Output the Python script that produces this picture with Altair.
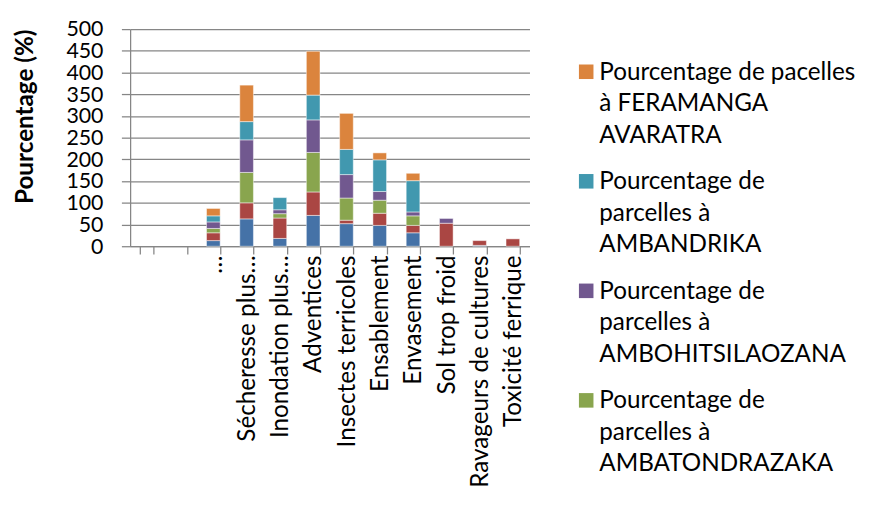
import altair as alt
import pandas as pd

categories = ["", " ", "…", "Sécheresse plus…", "Inondation plus…", "Adventices",
              "Insectes terricoles", "Ensablement", "Envasement", "Sol trop froid",
              "Ravageurs de cultures", "Toxicité ferrique"]

series = [
    "Pourcentage de parcelles à AMPARAFARAVOLA",
    "Pourcentage de parcelles à ANDILAMENA",
    "Pourcentage de parcelles à AMBATONDRAZAKA",
    "Pourcentage de parcelles à AMBOHITSILAOZANA",
    "Pourcentage de parcelles à AMBANDRIKA",
    "Pourcentage de pacelles à FERAMANGA AVARATRA",
]
colors = ["#4572A7", "#AA4643", "#89A54E", "#71588F", "#4198AF", "#DB843D"]

# values per series, one per category
blue   = [0, 0, 13, 63, 18, 71, 52, 48, 31, 0, 2, 0]
red    = [0, 0, 18, 37, 47, 54, 8, 28, 17, 53, 11, 17]
green  = [0, 0, 10, 70, 10, 91, 51, 30, 22, 0, 0, 0]
purple = [0, 0, 15, 75, 9, 75, 54, 20, 9, 11, 0, 0]
teal   = [0, 0, 14, 42, 28, 57, 58, 73, 72, 0, 0, 0]
orange = [0, 0, 17, 84, 0, 101, 83, 16, 17, 0, 0, 0]
all_values = [blue, red, green, purple, teal, orange]

y_ticks = list(range(0, 501, 50))

legend_series = [series[5], series[4], series[3], series[2]]
legend_labels = [
    "Pourcentage de pacelles\nà FERAMANGA\nAVARATRA",
    "Pourcentage de\nparcelles à\nAMBANDRIKA",
    "Pourcentage de\nparcelles à\nAMBOHITSILAOZANA",
    "Pourcentage de\nparcelles à\nAMBATONDRAZAKA",
]

rows = []
for si, (name, vals) in enumerate(zip(series, all_values)):
    for cat, v in zip(categories, vals):
        if v > 0:
            rows.append({"cat": cat, "series": name, "idx": si, "value": v})
df = pd.DataFrame(rows)

FONT = "Lato"
GRAY = "#868686"
color_scale = alt.Scale(domain=series, range=colors)

main = alt.Chart(df).mark_bar(stroke="white", strokeWidth=0.8, strokeOpacity=0.6).encode(
    x=alt.X("cat:N", sort=categories,
            scale=alt.Scale(domain=categories, paddingInner=0.59, paddingOuter=0.295),
            axis=alt.Axis(title=None, labelAngle=270, labelFontSize=25, labelFont=FONT,
                          labelColor="black", labelPadding=1, labelLimit=0,
                          tickBand="extent", tickSize=8, tickColor=GRAY,
                          tickWidth=1.3, domainColor=GRAY, domainWidth=1.3)),
    y=alt.Y("value:Q", stack="zero",
            scale=alt.Scale(domain=[0, 500], nice=False),
            axis=alt.Axis(title="Pourcentage (%)", values=y_ticks, labelFontSize=22,
                          labelFont=FONT, labelColor="black", labelPadding=19,
                          tickSize=9, tickColor=GRAY, tickWidth=1.3,
                          domainColor=GRAY, domainWidth=1.3,
                          gridColor=GRAY, gridWidth=1.3,
                          titleFont=FONT, titleFontSize=25, titleFontWeight="bold",
                          titleColor="black", titlePadding=29, titleAnchor="end")),
    color=alt.Color("series:N", scale=color_scale, legend=None),
    order=alt.Order("idx:Q", sort="ascending"),
).properties(width=412, height=224)

leg_df = pd.DataFrame({"label": legend_labels, "series": legend_series,
                       "pos": list(range(len(legend_labels)))})
base = alt.Chart(leg_df).encode(
    y=alt.Y("pos:O", scale=alt.Scale(type="point", range=[44, 383], padding=0), axis=None)
)
sq = base.mark_square(size=225, opacity=1).encode(
    x=alt.value(38.5),
    color=alt.Color("series:N", scale=color_scale, legend=None),
)
txt = base.mark_text(align="left", baseline="alphabetic", dy=8, lineBreak="\n",
                     lineHeight=32.5, fontSize=25, font=FONT, color="black").encode(
    x=alt.value(52), text="label:N"
)
legend = (sq + txt).properties(width=250, height=449)

chart = alt.hconcat(main, legend, spacing=20).properties(
    padding={"left": 5, "top": 3, "right": 5, "bottom": 5},
    background="white",
).configure_view(strokeWidth=0, stroke="transparent")

chart.save("out.html", embed_options={"renderer": "svg", "actions": False})
